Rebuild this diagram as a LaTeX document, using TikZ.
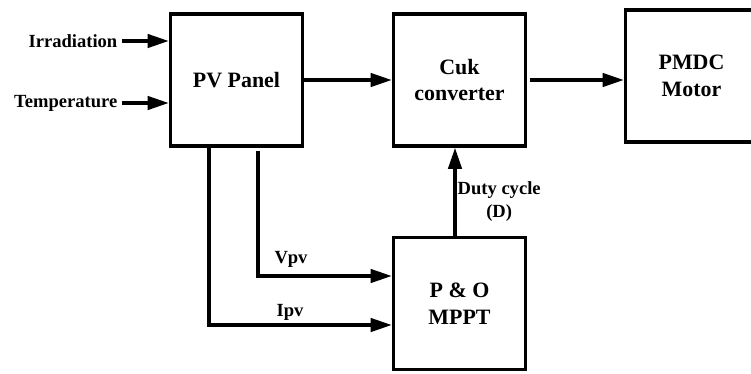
\documentclass[tikz,border=0pt]{standalone}
\usepackage{fontspec}
\setmainfont{Liberation Serif}
\usetikzlibrary{positioning, arrows.meta, calc}

\begin{document}
\begin{tikzpicture}[x=0.25cm, y=-0.25cm,
    block/.style={draw, line width=2.5pt, minimum width=3.3cm, minimum height=3.3cm,
                  align=center, font=\fontsize{15.6}{19.2}\selectfont\bfseries},
    lbl/.style={font=\fontsize{13.2}{16.4}\selectfont\bfseries, inner sep=1pt},
    sig/.style={line width=2.3pt, -{Triangle[length=15pt, width=9.5pt]}}]
  \useasboundingbox (0,0) rectangle (75.1,37.3);

  % blocks
  \node[block] (pv) at (23.65,8.0) {PV Panel};
  \node[block] (cuk) at (45.95,8.0) {Cuk\\converter};
  \node[block] (pmdc) at (69.15,7.6) {PMDC\\Motor};
  \node[block] (mppt) at (45.95,30.35) {P \& O\\MPPT};

  % labels
  \node[lbl, anchor=east] (irr) at (11.9,4.1) {Irradiation};
  \node[lbl, anchor=east] (temp) at (11.9,10.3) {Temperature};
  \node[lbl] (vpv) at (29.1,25.9) {Vpv};
  \node[lbl] (ipv) at (29.0,31.2) {Ipv};
  \node[lbl, align=center, anchor=west] (duty) at (45.6,20.2) {Duty cycle\\(D)};

  % connectors
  \draw[sig] ([xshift=2pt]irr.east) -- (irr.east -| pv.west);
  \draw[sig] ([xshift=2pt]temp.east) -- (temp.east -| pv.west);
  \draw[sig] (pv) -- (cuk);
  \draw[sig, shorten <=2pt] (cuk.east) -- (cuk.east -| pmdc.west);
  \draw[sig] ($(pv.south)+(2.15,0.3)$) |- ($(mppt.west)+(0,-2.75)$);
  \draw[sig] ($(pv.south)+(-2.75,0)$) |- ($(mppt.west)+(0,2.15)$);
  \draw[sig] ($(mppt.north)+(-0.45,0)$) -- ($(cuk.south)+(-0.45,0)$);
\end{tikzpicture}
\end{document}
